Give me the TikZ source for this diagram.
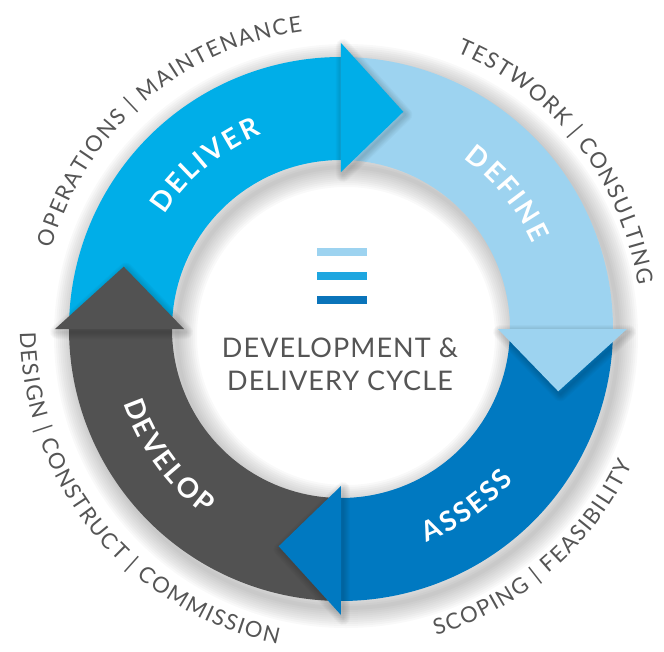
\documentclass[tikz,border=0pt]{standalone}
\usepackage{fontspec}
\newfontfamily\cyclefont[LetterSpace=4]{Lato}
\newfontfamily\labelfont{Lato}
\usetikzlibrary{decorations.text}

\definecolor{deliverblue}{RGB}{0,174,232}
\definecolor{defineblue}{RGB}{157,211,240}
\definecolor{assessblue}{RGB}{0,121,193}
\definecolor{developgray}{RGB}{82,82,82}
\definecolor{textgray}{RGB}{85,85,85}
\definecolor{barmid}{RGB}{30,166,224}
\definecolor{bardark}{RGB}{10,116,186}

\newcommand {\Rin}{169}
\newcommand {\Rout}{272}
\newcommand {\bandfont}{\labelfont\bfseries\fontsize{27.5}{30}\selectfont\color{white}\kern2.6pt}
\newcommand {\sidefont}{\labelfont\fontsize{22}{25}\selectfont\color{textgray}\kern1.6pt}
\newcommand {\band}[2] {\fill[#2] (#1:\Rout) arc (#1:#1-91:\Rout) -- (#1-91:\Rin) arc (#1-91:#1:\Rin) -- cycle;}
\newcommand {\head}[2] {\foreach \w in {2,4,...,14}
                            {\draw[black, opacity=0.025, line width=\w pt, line join=round, shift={(2,-3)}]
                                (#1-90:157) -- (#1-90:286) -- (#1-106:226) -- cycle;}
                        \fill[#2] (#1-90:157) -- (#1-90:286) -- (#1-106:226) -- cycle;}
\newcommand {\arclabel}[5] {\path[decorate, decoration={text along path, text align=center,
                              text format delimiters={[}{]}, text={[#5]#1}}] (#2:#4) arc (#2:#3:#4);}

\begin{document}
\begin{tikzpicture}[x=1pt, y=1pt]
        \useasboundingbox (-341,-322) rectangle (323,329);
        \foreach \w in {4,8,...,40} {
            \draw[black, opacity=0.025, line width=\w pt] (5,-7) circle (\Rout);
            \draw[black, opacity=0.025, line width=\w pt] (5,-7) circle (\Rin);
        }
        \band{180}{deliverblue}
        \band{90}{defineblue}
        \band{0}{assessblue}
        \band{-90}{developgray}
        \head{180}{deliverblue}
        \head{90}{defineblue}
        \head{0}{assessblue}
        \head{-90}{developgray}
        \arclabel{DELIVER}{175}{85}{210}{\bandfont}
        \arclabel{DEFINE}{84.5}{-5.5}{210}{\bandfont}
        \arclabel{ASSESS}{-100}{-10}{230}{\bandfont}
        \arclabel{DEVELOP}{171}{261}{230}{\bandfont}
        \arclabel{OPERATIONS | MAINTENANCE}{200}{62}{300}{\sidefont}
        \arclabel{TESTWORK | CONSULTING}{107}{-31}{300}{\sidefont}
        \arclabel{SCOPING | FEASIBILITY}{-118}{20}{321}{\sidefont}
        \arclabel{DESIGN | CONSTRUCT | COMMISSION}{150}{289}{321}{\sidefont}
        \foreach \y/\c in {73/defineblue, 49/barmid, 25/bardark}
            \fill[\c] (-24,\y) rectangle (26,\y+8.5);
        \node[font=\cyclefont\fontsize{27}{30}\selectfont, text=textgray, anchor=base] (titletop) at (-1,-28) {DEVELOPMENT \&};
        \node[font=\cyclefont\fontsize{27}{30}\selectfont, text=textgray, anchor=base] (titlebottom) at (-1,-61) {DELIVERY CYCLE};
    \end{tikzpicture}
\end{document}
